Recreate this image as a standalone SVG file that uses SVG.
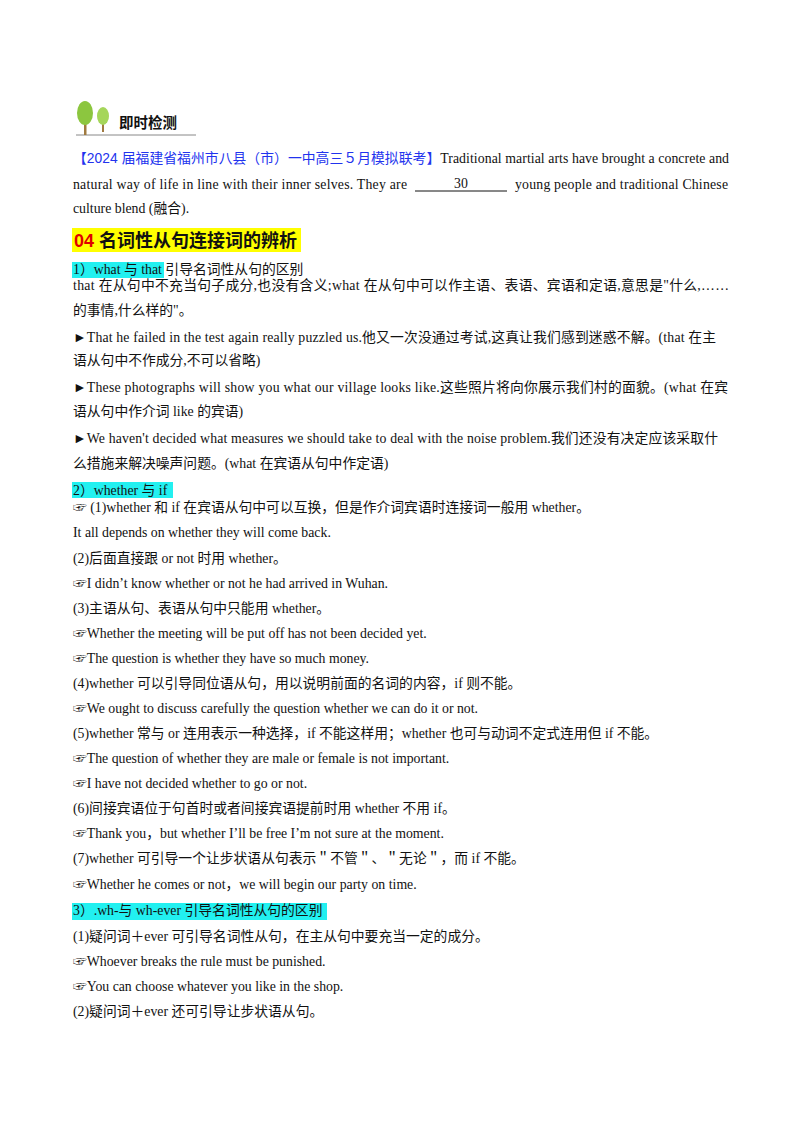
<svg xmlns="http://www.w3.org/2000/svg" width="800" height="1132" viewBox="0 0 800 1132">
<style>
text{font-family:"Liberation Serif","Noto Sans CJK SC",serif;font-size:13.8px;fill:#111}
.b{fill:#2233ee;font-family:"Liberation Sans","Noto Sans CJK SC",sans-serif}
.h{font-family:"Liberation Sans","Noto Sans CJK SC",sans-serif;font-weight:bold;font-size:18px}
.c{fill:#22f0f0}
</style>
<rect width="800" height="1132" fill="#fff"/>
<g id="icon">
<line x1="76" y1="135" x2="196" y2="135" stroke="#888" stroke-width="1"/>
<rect x="84" y="114" width="2.5" height="21" fill="#a07a40"/>
<ellipse cx="85" cy="113" rx="8" ry="12" fill="#8cc63f"/>
<rect x="102" y="118" width="2" height="14" fill="#a07a40"/>
<ellipse cx="103" cy="116" rx="6" ry="9" fill="#a5d65a"/>
<text x="119" y="128" style="font-family:'Liberation Sans','Noto Sans CJK SC',sans-serif;font-weight:bold;font-size:14.5px">即时检测</text>
</g>
<text x="73" y="163" textLength="656"><tspan class="b">【2024 届福建省福州市八县（市）一中高三５月模拟联考】</tspan>Traditional martial arts have brought a concrete and</text>
<text x="73" y="189" textLength="334">natural way of life in line with their inner selves. They are</text>
<line x1="415" y1="191" x2="507" y2="191" stroke="#111" stroke-width="1"/>
<text x="454" y="188">30</text>
<text x="515" y="189" textLength="213">young people and traditional Chinese</text>
<text x="73" y="213">culture blend (融合).</text>
<rect x="72" y="228" width="229" height="24" fill="#ffff00"/>
<text x="74" y="247" class="h"><tspan fill="#e00000">04 </tspan>名词性从句连接词的辨析</text>
<rect class="c" x="72" y="262" width="92" height="16"/>
<text x="73" y="274">1）what  与 that 引导名词性从句的区别</text>
<text x="73" y="290" textLength="656">that 在从句中不充当句子成分,也没有含义;what 在从句中可以作主语、表语、宾语和定语,意思是"什么,……</text>
<text x="73" y="315">的事情,什么样的"。</text>
<text x="73" y="342" textLength="643">►That he failed in the test again really puzzled us.他又一次没通过考试,这真让我们感到迷惑不解。(that 在主</text>
<text x="73" y="365">语从句中不作成分,不可以省略)</text>
<text x="73" y="392" textLength="655">►These photographs will show you what our village looks like.这些照片将向你展示我们村的面貌。(what 在宾</text>
<text x="73" y="416">语从句中作介词 like 的宾语)</text>
<text x="73" y="443" textLength="645">►We haven't decided what measures we should take to deal with the noise problem.我们还没有决定应该采取什</text>
<text x="73" y="468">么措施来解决噪声问题。(what 在宾语从句中作定语)</text>
<rect class="c" x="72" y="482" width="101" height="16"/>
<text x="73" y="495">2）whether  与 if</text>
<text x="73" y="512">☞ (1)whether 和 if 在宾语从句中可以互换，但是作介词宾语时连接词一般用 whether。</text>
<text x="73" y="537">It all depends on whether they will come back.</text>
<text x="73" y="563">(2)后面直接跟 or not  时用 whether。</text>
<text x="73" y="588">☞I didn’t know whether or not he had arrived in Wuhan.</text>
<text x="73" y="613">(3)主语从句、表语从句中只能用 whether。</text>
<text x="73" y="638">☞Whether the meeting will be put off has not been decided yet.</text>
<text x="73" y="663">☞The question is whether they have so much money.</text>
<text x="73" y="688">(4)whether 可以引导同位语从句，用以说明前面的名词的内容，if 则不能。</text>
<text x="73" y="713">☞We ought to discuss carefully the question whether we can do it or not.</text>
<text x="73" y="738">(5)whether 常与 or 连用表示一种选择，if 不能这样用；whether 也可与动词不定式连用但 if 不能。</text>
<text x="73" y="763">☞The question of whether they are male or female is not important.</text>
<text x="73" y="788">☞I have not decided whether to go or not.</text>
<text x="73" y="813">(6)间接宾语位于句首时或者间接宾语提前时用 whether 不用 if。</text>
<text x="73" y="838">☞Thank you，but whether I’ll be free I’m not sure at the moment.</text>
<text x="73" y="863">(7)whether 可引导一个让步状语从句表示＂不管＂、＂无论＂，而 if 不能。</text>
<text x="73" y="889">☞Whether he comes or not，we will begin our party on time.</text>
<rect class="c" x="72" y="903" width="255" height="17"/>
<text x="73" y="915">3）.wh-与 wh-ever 引导名词性从句的区别</text>
<text x="73" y="941">(1)疑问词＋ever 可引导名词性从句，在主从句中要充当一定的成分。</text>
<text x="73" y="966">☞Whoever breaks the rule must be punished.</text>
<text x="73" y="991">☞You can choose whatever you like in the shop.</text>
<text x="73" y="1016">(2)疑问词＋ever 还可引导让步状语从句。</text>
</svg>
